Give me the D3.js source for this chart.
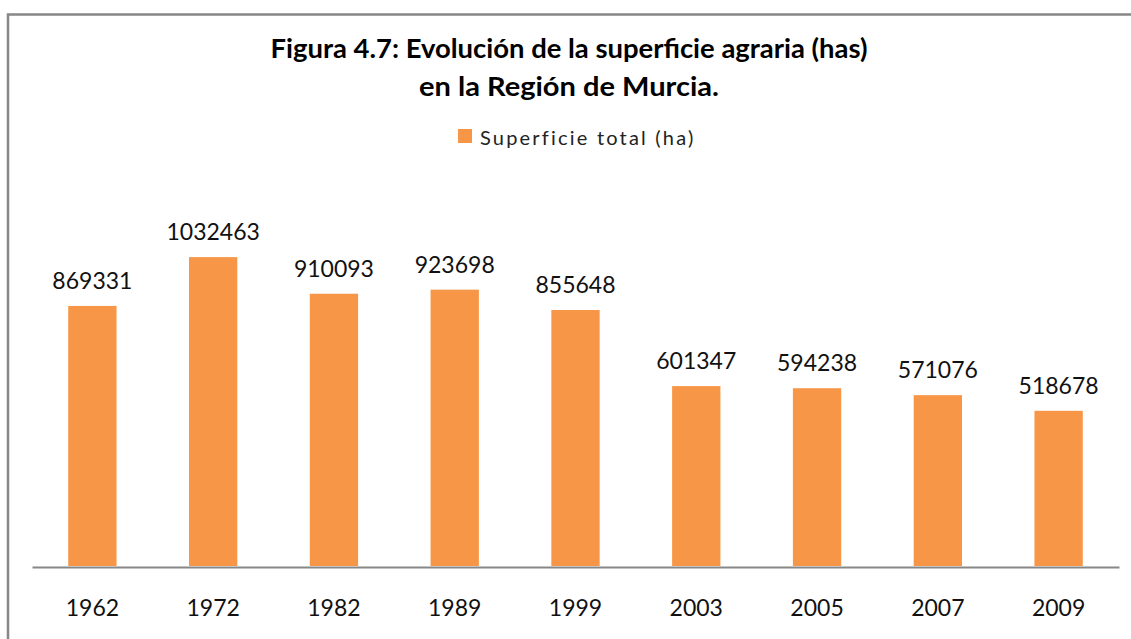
<!DOCTYPE html>
<html>
<head>
<meta charset="utf-8">
<script src="https://cdn.jsdelivr.net/npm/d3@7"></script>
<style>
  html, body { margin: 0; padding: 0; background: #fff; }
  svg { display: block; }
</style>
</head>
<body>
<svg id="chart" width="1131" height="639"></svg>
<script>
const categories = ["1962", "1972", "1982", "1989", "1999", "2003", "2005", "2007", "2009"];
const values = [869331, 1032463, 910093, 923698, 855648, 601347, 594238, 571076, 518678];
const seriesName = "Superficie total (ha)";
const titleLines = ["Figura 4.7: Evolución de la superficie agraria (has)", "en la Región de Murcia."];
const titleWidths = [597, 300];

const svg = d3.select("#chart");
const W = 1131, H = 639;
const font = "Lato, 'Open Sans', sans-serif";

svg.append("rect").attr("x", 0).attr("y", 0).attr("width", W).attr("height", H).attr("fill", "#fff");

// outer frame
svg.append("rect")
  .attr("x", 8).attr("y", 14.5).attr("width", W + 20).attr("height", H + 20)
  .attr("fill", "none").attr("stroke", "#878787").attr("stroke-width", 2.5);

// title
svg.append("g").selectAll("text").data(titleLines).join("text")
  .attr("x", 569).attr("y", (d, i) => 58 + i * 38)
  .attr("text-anchor", "middle")
  .attr("font-family", font).attr("font-weight", "bold").attr("font-size", 26)
  .attr("textLength", (d, i) => titleWidths[i])
  .attr("lengthAdjust", "spacingAndGlyphs")
  .attr("fill", "#000")
  .text(d => d);

// legend
const leg = svg.append("g");
leg.append("rect").attr("x", 458).attr("y", 129).attr("width", 14).attr("height", 14).attr("fill", "#F79646");
leg.append("text").attr("x", 480).attr("y", 145)
  .attr("font-family", font).attr("font-size", 20).attr("letter-spacing", 2.2)
  .attr("fill", "#222").text(seriesName);

// scales
const x = d3.scaleBand().domain(categories).range([32, 1119]).paddingInner(0.6).paddingOuter(0.3);
const y = d3.scaleLinear().domain([0, 1200000]).range([566, 207]);

// bars
svg.append("g").selectAll("rect").data(values).join("rect")
  .attr("x", (d, i) => x(categories[i]))
  .attr("y", d => y(d))
  .attr("width", x.bandwidth())
  .attr("height", d => y(0) - y(d))
  .attr("fill", "#F79646");

// data labels
svg.append("g").selectAll("text").data(values).join("text")
  .attr("x", (d, i) => x(categories[i]) + x.bandwidth() / 2)
  .attr("y", d => y(d) - 17)
  .attr("text-anchor", "middle")
  .attr("font-family", font).attr("font-size", 23)
  .attr("fill", "#111")
  .text(d => d);

// x axis
const xAxis = d3.axisBottom(x).tickSize(0).tickPadding(0);
const gx = svg.append("g").attr("transform", "translate(0,567)").call(xAxis);
gx.select(".domain").attr("stroke", "#878787").attr("stroke-width", 2);
gx.selectAll(".tick text")
  .attr("y", 49).attr("dy", null)
  .attr("font-family", font).attr("font-size", 23).attr("fill", "#111");
</script>
</body>
</html>
